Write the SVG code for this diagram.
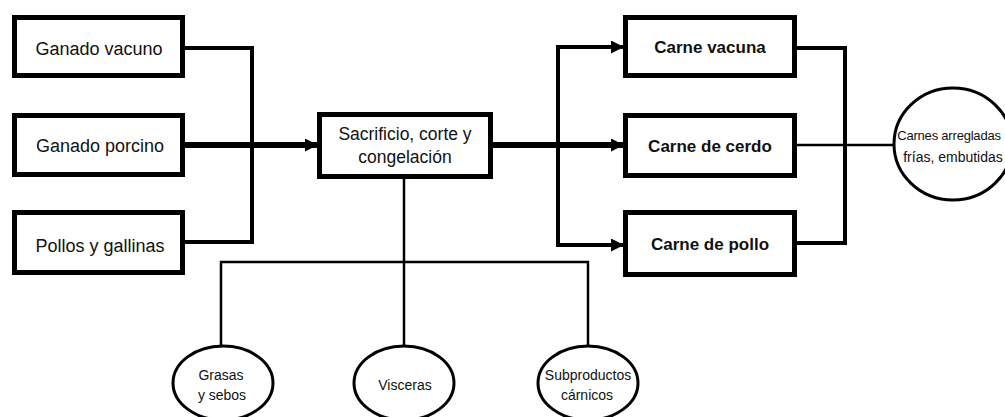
<svg xmlns="http://www.w3.org/2000/svg" width="1005" height="417" viewBox="0 0 1005 417">
<style>
.box{fill:#fff;stroke:#000;stroke-width:5}
.ell{fill:#fff;stroke:#000;stroke-width:3}
.t{font-family:"Liberation Sans",Arial,sans-serif;font-size:18px;fill:#111;text-anchor:middle}
.b{font-weight:bold;font-size:17px}
.s{font-size:14px}
.thick{stroke:#000;stroke-width:6;fill:none}
.med{stroke:#000;stroke-width:4;fill:none}
.thin{stroke:#000;stroke-width:2.5;fill:none}
</style>
<defs>
<marker id="arr" markerUnits="userSpaceOnUse" viewBox="0 0 13 13" markerWidth="13" markerHeight="13" refX="13" refY="6.5" orient="auto">
<path d="M0,0 L13,6.5 L0,13 Z" fill="#000"/>
</marker>
</defs>
<rect width="1005" height="417" fill="#fff"/>
<g id="connectors">
<polyline class="med" points="185,48 252,48 252,242 185,242"/>
<line class="thick" x1="185" y1="145" x2="318" y2="145" marker-end="url(#arr)"/>
<line class="thick" x1="493" y1="145" x2="624" y2="145" marker-end="url(#arr)"/>
<line class="med" x1="558" y1="47" x2="558" y2="245"/>
<line class="med" x1="556" y1="47" x2="624" y2="47" marker-end="url(#arr)"/>
<line class="med" x1="556" y1="245" x2="624" y2="245" marker-end="url(#arr)"/>
<polyline class="med" points="797,48 845,48 845,243 797,243"/>
<line class="thin" x1="797" y1="145" x2="894" y2="145"/>
<line class="thin" x1="404" y1="179" x2="404" y2="346"/>
<line class="thin" x1="220" y1="262" x2="589" y2="262"/>
<line class="thin" x1="221" y1="261" x2="221" y2="346"/>
<line class="thin" x1="588" y1="261" x2="588" y2="346"/>
</g>
<g id="ganado-vacuno">
<rect class="box" x="14.5" y="17.5" width="168" height="58"/>
<text class="t" x="99" y="55">Ganado vacuno</text>
</g>
<g id="ganado-porcino">
<rect class="box" x="14.5" y="115.5" width="168" height="59"/>
<text class="t" x="100" y="152">Ganado porcino</text>
</g>
<g id="pollos-gallinas">
<rect class="box" x="14.5" y="212.5" width="168" height="60"/>
<text class="t" x="100" y="252">Pollos y gallinas</text>
</g>
<g id="sacrificio">
<rect class="box" x="319.5" y="114.5" width="171" height="62"/>
<text class="t" x="405" y="140" style="font-size:17.5px">Sacrificio, corte y</text>
<text class="t" x="405" y="163" style="font-size:17.5px">congelación</text>
</g>
<g id="carne-vacuna">
<rect class="box" x="625.5" y="17.5" width="169" height="58"/>
<text class="t b" x="710" y="53">Carne vacuna</text>
</g>
<g id="carne-cerdo">
<rect class="box" x="625.5" y="115.5" width="169" height="60"/>
<text class="t b" x="710" y="152">Carne de cerdo</text>
</g>
<g id="carne-pollo">
<rect class="box" x="625.5" y="212.5" width="169" height="62"/>
<text class="t b" x="710" y="250">Carne de pollo</text>
</g>
<g id="carnes-arregladas">
<ellipse class="ell" cx="953" cy="144" rx="59" ry="56"/>
<text class="t s" x="949" y="140" style="font-size:13px;letter-spacing:-0.2px">Carnes arregladas</text>
<text class="t s" x="953" y="162">frías, embutidas</text>
</g>
<g id="grasas">
<ellipse class="ell" cx="223" cy="383" rx="50" ry="37"/>
<text class="t s" x="221" y="380">Grasas</text>
<text class="t s" x="222" y="400">y sebos</text>
</g>
<g id="visceras">
<ellipse class="ell" cx="404" cy="383" rx="50" ry="37"/>
<text class="t s" x="405" y="390">Visceras</text>
</g>
<g id="subproductos">
<ellipse class="ell" cx="588" cy="383" rx="50" ry="37"/>
<text class="t s" x="588" y="380">Subproductos</text>
<text class="t s" x="587" y="400">cárnicos</text>
</g>
</svg>
